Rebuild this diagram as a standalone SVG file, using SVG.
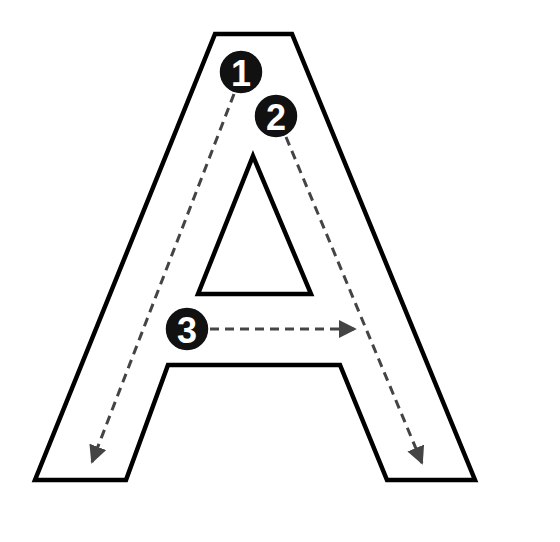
<svg xmlns="http://www.w3.org/2000/svg" width="560" height="542" viewBox="0 0 560 542">
<style>
.outline{fill:none;stroke:#000;stroke-width:4.5;stroke-linejoin:miter}
.dash{fill:none;stroke:#444;stroke-width:3;stroke-dasharray:9 6}
.badge circle{fill:#111;stroke:#fff;stroke-width:1.5}
.badge text{fill:#fff;stroke:#111;stroke-width:0;font-family:"Liberation Sans",Arial,sans-serif;font-weight:bold;font-size:36px;text-anchor:middle;dominant-baseline:central}
</style>
<defs>
<marker id="arrh" viewBox="0 0 10 10" refX="9" refY="5" markerWidth="18" markerHeight="18" markerUnits="userSpaceOnUse" orient="auto">
<path d="M0,0 L10,5 L0,10 z" fill="#444"/>
</marker>
</defs>
<rect width="560" height="542" fill="#fff"/>
<g id="letterA">
<polygon class="outline" points="215,34 292,34 475,480 387,480 340,365 168,365 126,480 35,480"/>
<polygon class="outline" points="253,156 311,294 198,294"/>
</g>
<g id="connectors">
<line class="dash" x1="234" y1="94" x2="92" y2="462" marker-end="url(#arrh)"/>
<line class="dash" x1="286" y1="137" x2="422" y2="463" marker-end="url(#arrh)"/>
<line class="dash" x1="210" y1="329" x2="355" y2="329" marker-end="url(#arrh)"/>
</g>
<g id="step1" class="badge">
<circle cx="241" cy="72" r="22"/>
<text x="241" y="73">1</text>
</g>
<g id="step2" class="badge">
<circle cx="276" cy="116" r="22"/>
<text x="276" y="117">2</text>
</g>
<g id="step3" class="badge">
<circle cx="187" cy="329" r="22"/>
<text x="187" y="330">3</text>
</g>
</svg>
